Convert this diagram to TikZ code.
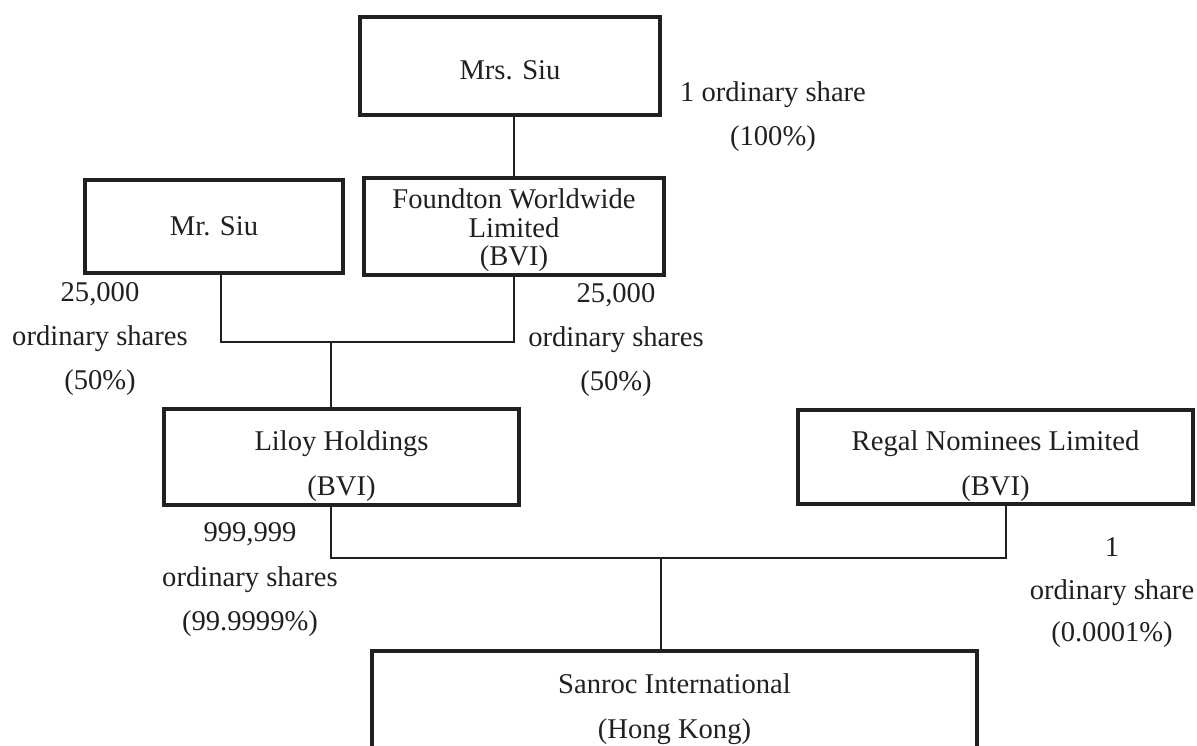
\documentclass[tikz,border=0pt]{standalone}
\usepackage{fontspec}
\setmainfont{Liberation Serif}
\usetikzlibrary{calc}
\definecolor{ink}{RGB}{35,31,32}
\tikzset{
  box/.style={draw=ink, line width=4.2pt, rectangle, inner sep=0pt, align=center, text=ink, font=\fontsize{28.6}{45}\selectfont},
  lbl/.style={inner sep=0pt, align=center, text=ink, font=\fontsize{28.6}{44}\selectfont},
  conn/.style={draw=ink, line width=1.6pt},
}
\begin{document}
\begin{tikzpicture}[x=1pt,y=-1pt]
\useasboundingbox (0,0) rectangle (1197,745);
\clip (0,0) rectangle (1197,745);
\node[box, minimum width=300pt, minimum height=98pt] (mrs) at (510,66) {\rule{0pt}{27.5pt}Mrs. Siu};
\node[box, minimum width=258pt, minimum height=93pt] (mr) at (214,226.5) {Mr. Siu};
\node[box, minimum width=300pt, minimum height=97pt, font=\fontsize{28.6}{28.5}\selectfont] (fnd) at (514,226.5) {\rule{0pt}{27.5pt}Foundton Worldwide\\Limited\\(BVI)};
\node[box, minimum width=355pt, minimum height=96pt] (lil) at (341.5,457) {\rule{0pt}{39pt}Liloy Holdings\\(BVI)};
\node[box, minimum width=395pt, minimum height=94pt] (reg) at (995.5,457) {\rule{0pt}{39pt}Regal Nominees Limited\\(BVI)};
\node[box, minimum width=605pt, minimum height=116pt, anchor=north] (san) at (674.5,649) {Sanroc International\\(Hong Kong)};
\node[lbl] (l1) at (773,117) {1 ordinary share\\(100\%)};
\node[lbl] (l2) at (100,339.5) {25,000\\ordinary shares\\(50\%)};
\node[lbl] (l3) at (616,340.5) {25,000\\ordinary shares\\(50\%)};
\node[lbl, font=\fontsize{28.6}{44.5}\selectfont] (l4) at (250,580) {999,999\\ordinary shares\\(99.9999\%)};
\node[lbl, font=\fontsize{28.6}{42.5}\selectfont] (l5) at (1112,593) {1\\ordinary share\\(0.0001\%)};
\coordinate (j1) at (331,342);
\coordinate (j2) at (661,558);
\coordinate (mrc) at ([xshift=7pt]mr.south);
\coordinate (rgc) at ([xshift=10.5pt]reg.south);
\draw[conn] (fnd.north) -- (fnd.north |- mrs.south);
\draw[conn] (mrc) -- (mrc |- j1) -- (fnd.south |- j1) -- (fnd.south);
\draw[conn] (j1) -- (j1 |- lil.north);
\draw[conn] (j1 |- lil.south) -- (j1 |- j2) -- (rgc |- j2) -- (rgc);
\draw[conn] (j2) -- (j2 |- san.north);
\end{tikzpicture}
\end{document}
